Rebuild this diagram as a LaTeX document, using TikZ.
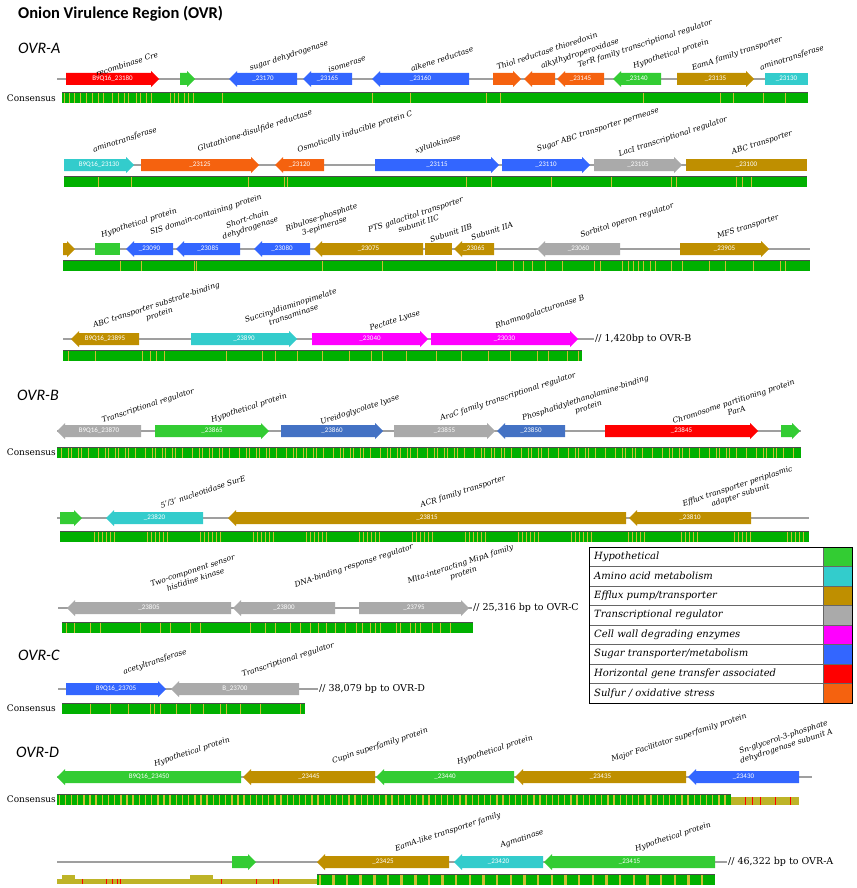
\documentclass[tikz,border=0pt]{standalone}
\usepackage{fontspec}
\setmainfont{DejaVu Serif}
\newfontfamily\carlito{Carlito}

\definecolor{hypo}{RGB}{51,204,51}
\definecolor{amino}{RGB}{51,204,204}
\definecolor{efflux}{RGB}{191,143,0}
\definecolor{treg}{RGB}{170,170,170}
\definecolor{cellwall}{RGB}{255,0,255}
\definecolor{sugar}{RGB}{51,102,255}
\definecolor{sugarB}{RGB}{68,114,196}
\definecolor{hgt}{RGB}{255,0,0}
\definecolor{sulfur}{RGB}{245,98,15}
\definecolor{cons}{RGB}{0,176,0}
\definecolor{stripe}{RGB}{205,190,50}
\definecolor{olivebar}{RGB}{190,180,40}

% gene arrows: name, start, end, y, colour, id
\newcommand{\gener}[6]{%
  \fill[#5] (#2,#4-6) -- (#3-8,#4-6) -- (#3-8,#4-8) -- (#3,#4) -- (#3-8,#4+8) -- (#3-8,#4+6) -- (#2,#4+6) -- cycle;
  \node[geneid] (#1) at ({(#2+#3)/2},#4) {#6};}
\newcommand{\genel}[6]{%
  \fill[#5] (#3,#4-6) -- (#2+8,#4-6) -- (#2+8,#4-8) -- (#2,#4) -- (#2+8,#4+8) -- (#2+8,#4+6) -- (#3,#4+6) -- cycle;
  \node[geneid] (#1) at ({(#2+#3)/2},#4) {#6};}
\newcommand{\genebox}[6]{%
  \fill[#5] (#2,#4-6) rectangle (#3,#4+6);
  \node[geneid] (#1) at ({(#2+#3)/2},#4) {#6};}
% consensus bar: start, end, top
\newcommand{\consbar}[3]{%
  \fill[cons] (#1,#3) rectangle (#2,#3+11);
  \draw[black!70, line width=0.8pt] (#1,#3) -- (#2,#3);}

\begin{document}
\begin{tikzpicture}[x=1pt,y=-1pt,
  backbone/.style={draw=gray!75, line width=1.2pt},
  geneid/.style={font=\carlito\fontsize{7}{8}\selectfont, text=white, inner sep=0pt},
  glabel/.style={font=\itshape\fontsize{7.5}{9.5}\selectfont, rotate=18, align=center, inner sep=0pt},
  rowtitle/.style={font=\carlito\itshape\fontsize{16}{18}\selectfont, anchor=west, inner sep=0pt},
  constext/.style={font=\fontsize{9}{10}\selectfont, anchor=east, inner sep=0pt},
  gaptext/.style={font=\fontsize{9.5}{11}\selectfont, anchor=west, inner sep=1pt},
  stripeline/.style={draw=stripe, line width=0.5pt},
  legtext/.style={font=\itshape\fontsize{10}{12}\selectfont, anchor=west, inner sep=0pt}]
\useasboundingbox (0,0) rectangle (856,888);

\node[anchor=west, inner sep=0pt, font=\carlito\bfseries\fontsize{16.5}{19}\selectfont] (title) at (18,14) {Onion Virulence Region (OVR)};

%%% OVR-A
\node[rowtitle] (ovrA) at (18,48) {OVR-A};

% row 1
\draw[backbone] (57,79) -- (808,79);
\gener{g23180}{66}{159}{79}{hgt}{B9Q16\_23180}
\gener{g23175}{180}{195}{79}{hypo}{}
\genel{g23170}{229}{297}{79}{sugar}{\_23170}
\genel{g23165}{303}{352}{79}{sugar}{\_23165}
\genel{g23160}{372}{469}{79}{sugar}{\_23160}
\gener{g23155}{493}{521}{79}{sulfur}{}
\genel{g23150}{524}{555}{79}{sulfur}{}
\genel{g23145}{557}{604}{79}{sulfur}{\_23145}
\genel{g23140}{613}{661}{79}{hypo}{\_23140}
\gener{g23135}{677}{754}{79}{efflux}{\_23135}
\genebox{g23130e}{765}{808}{79}{amino}{\_23130}
\node[glabel] (l23180) at (127,64) {recombinase Cre};
\node[glabel] (l23170) at (289,56) {sugar dehydrogenase};
\node[glabel] (l23165) at (347,64) {isomerase};
\node[glabel] (l23160) at (442,59) {alkene reductase};
\node[glabel] (l23155) at (547,51) {Thiol reductase thioredoxin};
\node[glabel] (l23150) at (580,54) {alkylhydroperoxidase};
\node[glabel] (l23145) at (645,44) {TerR family transcriptional regulator};
\node[glabel] (l23140) at (671,54) {Hypothetical protein};
\node[glabel] (l23135) at (737,54) {EamA family transporter};
\node[glabel] (l23130e) at (792,58) {aminotransferase};
\node[constext] (consA) at (56,98) {Consensus};
\consbar{62}{808}{92.5}
\foreach \x in {64,69,74,80,86,92,98,103,112,118,124,128,136,140,146,151,170,174,178,184,188,193,222,372,410,486,500,643,720,733,763,785}
  \draw[stripeline] (\x,93.5) -- (\x,103.5);

% row 2
\draw[backbone] (64,165) -- (807,165);
\gener{g23130}{64}{134}{165}{amino}{B9Q16\_23130}
\gener{g23125}{141}{259}{165}{sulfur}{\_23125}
\genel{g23120}{275}{324}{165}{sulfur}{\_23120}
\gener{g23115}{375}{499}{165}{sugar}{\_23115}
\gener{g23110}{502}{590}{165}{sugar}{\_23110}
\gener{g23105}{594}{682}{165}{treg}{\_23105}
\genebox{g23100}{686}{807}{165}{efflux}{\_23100}
\node[glabel] (l23130) at (125,140) {aminotransferase};
\node[glabel] (l23125) at (255,131) {Glutathione-disulfide reductase};
\node[glabel] (l23120) at (355,132) {Osmotically inducible protein C};
\node[glabel] (l23115) at (438,144) {xylulokinase};
\node[glabel] (l23110) at (598,130) {Sugar ABC transporter permease};
\node[glabel] (l23105) at (673,137) {LacI transcriptional regulator};
\node[glabel] (l23100) at (762,143) {ABC transporter};
\consbar{64}{807}{176}
\foreach \x in {98,131,248,284,287,466,491,551,611,671,676,736,742,751}
  \draw[stripeline] (\x,177) -- (\x,187);

% row 3
\draw[backbone] (63,249) -- (810,249);
\gener{g23100b}{63}{75}{249}{efflux}{}
\genebox{g23095}{95}{120}{249}{hypo}{}
\genel{g23090}{126}{173}{249}{sugar}{\_23090}
\genel{g23085}{176}{240}{249}{sugar}{\_23085}
\genel{g23080}{254}{310}{249}{sugar}{\_23080}
\genel{g23075}{314}{423}{249}{efflux}{\_23075}
\genebox{g23070}{425}{452}{249}{efflux}{}
\genel{g23065}{454}{494}{249}{efflux}{\_23065}
\genel{g23060}{537}{620}{249}{treg}{\_23060}
\gener{g23905}{680}{769}{249}{efflux}{\_23905}
\node[glabel] (l23095) at (139,223) {Hypothetical protein};
\node[glabel] (l23090) at (206,215) {SIS domain-containing protein};
\node[glabel] (l23085) at (249,224) {Short-chain\\dehydrogenase};
\node[glabel] (l23080) at (323,222) {Ribulose-phosphate\\3-epimerase};
\node[glabel] (l23075) at (417,219) {PTS galactitol transporter\\subunit IIC};
\node[glabel] (l23070) at (451,233) {Subunit IIB};
\node[glabel] (l23065) at (492,231) {Subunit IIA};
\node[glabel] (l23060) at (627,221) {Sorbitol operon regulator};
\node[glabel] (l23905) at (748,227) {MFS transporter};
\consbar{63}{810}{260}
\foreach \x in {120,141,194,196,322,382,496,513,523,532,545,562,594,600,622,628,633,638,643,650,655,671,682,709,725,753,780,785}
  \draw[stripeline] (\x,261) -- (\x,271);

% row 4
\node[gaptext] (toB) at (594,339) {// 1,420bp to OVR-B};
\draw[backbone] (63,339) -- (toB.west);
\genel{g23895}{71}{139}{339}{efflux}{B9Q16\_23895}
\gener{g23890}{191}{297}{339}{amino}{\_23890}
\gener{g23040}{312}{428}{339}{cellwall}{\_23040}
\gener{g23030}{431}{578}{339}{cellwall}{\_23030}
\node[glabel] (l23895) at (158,310) {ABC transporter substrate-binding\\protein};
\node[glabel] (l23890) at (292,310) {Succinyldiaminopimelate\\transaminase};
\node[glabel] (l23040) at (395,321) {Pectate Lyase};
\node[glabel] (l23030) at (540,312) {Rhamnogalacturonase B};
\consbar{63}{582}{350}
\foreach \x in {68,95,142,150,156,164,226,262,275,297,322,349,371,382,406,436,461,488,510,537,548,567,578}
  \draw[stripeline] (\x,351) -- (\x,361);

%%% OVR-B
\node[rowtitle] (ovrB) at (17,395) {OVR-B};

% row 1
\draw[backbone] (57,431) -- (801,431);
\genel{g23870}{57}{141}{431}{treg}{B9Q16\_23870}
\gener{g23865}{155}{269}{431}{hypo}{\_23865}
\gener{g23860}{281}{383}{431}{sugarB}{\_23860}
\gener{g23855}{394}{495}{431}{treg}{\_23855}
\genel{g23850}{497}{565}{431}{sugarB}{\_23850}
\gener{g23845}{605}{758}{431}{hgt}{\_23845}
\gener{g23840}{781}{800}{431}{hypo}{}
\node[glabel] (l23870) at (148,406) {Transcriptional regulator};
\node[glabel] (l23865) at (249,408) {Hypothetical protein};
\node[glabel] (l23860) at (360,410) {Ureidoglycolate lyase};
\node[glabel] (l23855) at (508,397) {AraC family transcriptional regulator};
\node[glabel] (l23850) at (587,403) {Phosphatidylethanolamine-binding\\protein};
\node[glabel] (l23845) at (735,406) {Chromosome partitioning protein\\ParA};
\node[constext] (consB) at (56,452.5) {Consensus};
\consbar{57}{801}{447}
\foreach \i in {1,...,120}{
  \pgfmathsetmacro{\xs}{58+mod(\i*47,742)}
  \draw[stripeline] (\xs,448) -- (\xs,458);}

% row 2
\draw[backbone] (57,518) -- (809,518);
\gener{g23825}{60}{82}{518}{hypo}{}
\genel{g23820}{106}{203}{518}{amino}{\_23820}
\genel{g23815}{228}{626}{518}{efflux}{\_23815}
\genel{g23810}{629}{751}{518}{efflux}{\_23810}
\node[glabel] (l23820) at (203,492) {5'/3' nucleotidase SurE};
\node[glabel] (l23815) at (463,492) {ACR family transporter};
\node[glabel] (l23810) at (739,491) {Efflux transporter periplasmic\\adapter subunit};
\consbar{60}{809}{531}
\foreach \i in {1,...,80}{
  \pgfmathsetmacro{\xs}{61+mod(\i*53,746)}
  \draw[stripeline] (\xs,532) -- (\xs,542);}

% row 3
\node[gaptext] (toC) at (472,608) {// 25,316 bp to OVR-C};
\draw[backbone] (58,608) -- (toC.west);
\genel{g23805}{67}{231}{608}{treg}{\_23805}
\genel{g23800}{233}{335}{608}{treg}{\_23800}
\gener{g23795}{359}{469}{608}{treg}{\_23795}
\node[glabel] (l23805) at (194,575) {Two-component sensor\\histidine kinase};
\node[glabel] (l23800) at (354,566) {DNA-binding response regulator};
\node[glabel] (l23795) at (462,569) {Mlta-interacting MipA family\\protein};
\consbar{62}{473}{622}
\foreach \x in {66,74,90,100,140,160,170,190,200,250,265,275,290,300,310,318,326,335,345,356,362,370,375,380,396,400,410,415,420,432,440,450}
  \draw[stripeline] (\x,623) -- (\x,633);

%%% OVR-C
\node[rowtitle] (ovrC) at (18,655) {OVR-C};
\node[gaptext] (toD) at (318,689) {// 38,079 bp to OVR-D};
\draw[backbone] (58,689) -- (toD.west);
\gener{g23705}{66}{166}{689}{sugar}{B9Q16\_23705}
\genel{g23700}{171}{299}{689}{treg}{B\_23700}
\node[glabel] (l23705) at (155,662) {acetyltransferase};
\node[glabel] (l23700) at (288,660) {Transcriptional regulator};
\node[constext] (consC) at (56,708.5) {Consensus};
\consbar{62}{305}{703}
\foreach \x in {90,110,128,150,154,160,176,190,203,220,226,240,260,300}
  \draw[stripeline] (\x,704) -- (\x,714);

%%% OVR-D
\node[rowtitle] (ovrD) at (16,752) {OVR-D};

% row 1
\draw[backbone] (57,777) -- (812,777);
\genel{g23450}{57}{241}{777}{hypo}{B9Q16\_23450}
\genel{g23445}{243}{375}{777}{efflux}{\_23445}
\genel{g23440}{376}{514}{777}{hypo}{\_23440}
\genel{g23435}{515}{686}{777}{efflux}{\_23435}
\genel{g23430}{688}{799}{777}{sugar}{\_23430}
\node[glabel] (l23450) at (192,752) {Hypothetical protein};
\node[glabel] (l23445) at (380,746) {Cupin superfamily protein};
\node[glabel] (l23440) at (495,750) {Hypothetical protein};
\node[glabel] (l23435) at (679,738) {Major Facilitator superfamily protein};
\node[glabel] (l23430) at (785,742) {Sn-glycerol-3-phosphate\\dehydrogenase subunit A};
\node[constext] (consD) at (56,799.5) {Consensus};
\consbar{57}{731}{794}
\foreach \i in {1,...,150}{
  \pgfmathsetmacro{\xs}{58+mod(\i*37,672)}
  \draw[stripeline] (\xs,795) -- (\xs,805);}
\fill[olivebar] (731,797) rectangle (799,805);
\foreach \x in {745,752,760,775,790}
  \draw[red, line width=0.8pt] (\x,797) -- (\x,805);

% row 2
\node[gaptext] (toA) at (727,862) {// 46,322 bp to OVR-A};
\draw[backbone] (57,862) -- (toA.west);
\gener{g23428}{232}{256}{862}{hypo}{}
\genel{g23425}{317}{449}{862}{efflux}{\_23425}
\genel{g23420}{454}{543}{862}{amino}{\_23420}
\genel{g23415}{544}{715}{862}{hypo}{\_23415}
\node[glabel] (l23425) at (448,832) {EamA-like transporter family};
\node[glabel] (l23420) at (522,839) {Agmatinase};
\node[glabel] (l23415) at (673,837) {Hypothetical protein};
\fill[olivebar] (57,879) rectangle (317,884);
\fill[olivebar] (62,875) rectangle (75,884);
\fill[olivebar] (190,875) rectangle (213,884);
\foreach \x in {82,106,112,117,120,221,256,273,278}
  \draw[red, line width=0.8pt] (\x,879) -- (\x,884);
\consbar{317}{715}{874}
\foreach \i in {1,...,70}{
  \pgfmathsetmacro{\xs}{318+mod(\i*41,396)}
  \draw[stripeline] (\xs,875) -- (\xs,885);}

%%% legend
\fill[white] (589,547) rectangle (852,703);
\fill[hypo] (823,547) rectangle (852,566.5);
\fill[amino] (823,566.5) rectangle (852,586);
\fill[efflux] (823,586) rectangle (852,605.5);
\fill[treg] (823,605.5) rectangle (852,625);
\fill[cellwall] (823,625) rectangle (852,644.5);
\fill[sugar] (823,644.5) rectangle (852,664);
\fill[hgt] (823,664) rectangle (852,683.5);
\fill[sulfur] (823,683.5) rectangle (852,703);
\foreach \y in {566.5,586,605.5,625,644.5,664,683.5}
  \draw[black!60] (589,\y) -- (852,\y);
\draw[black!60] (823,547) -- (823,703);
\draw[line width=1pt] (589,547) rectangle (852,703);
\node[legtext] (leg1) at (594,556.75) {Hypothetical};
\node[legtext] (leg2) at (594,576.25) {Amino acid metabolism};
\node[legtext] (leg3) at (594,595.75) {Efflux pump/transporter};
\node[legtext] (leg4) at (594,615.25) {Transcriptional regulator};
\node[legtext] (leg5) at (594,634.75) {Cell wall degrading enzymes};
\node[legtext] (leg6) at (594,654.25) {Sugar transporter/metabolism};
\node[legtext] (leg7) at (594,673.75) {Horizontal gene transfer associated};
\node[legtext] (leg8) at (594,693.25) {Sulfur / oxidative stress};
\end{tikzpicture}
\end{document}
